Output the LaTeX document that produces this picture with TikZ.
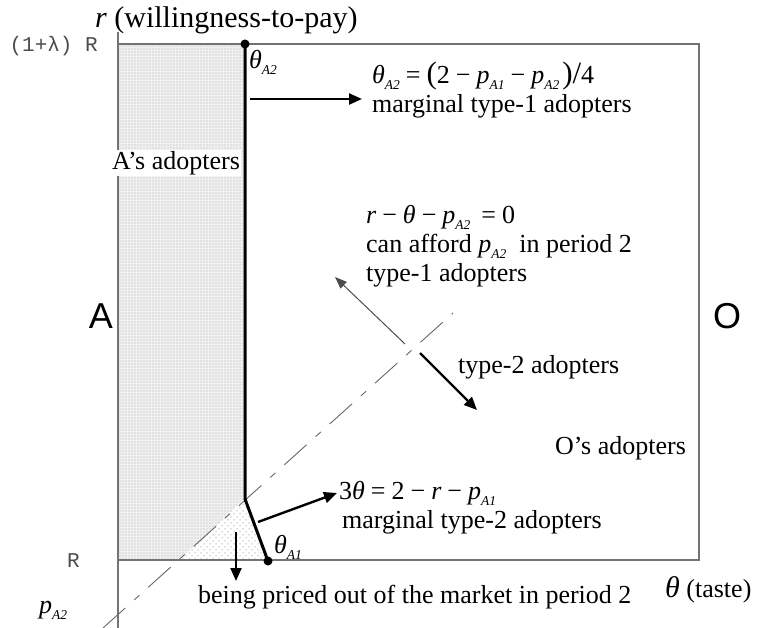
\documentclass[tikz,border=0pt]{standalone}
\usepackage{fontspec}
\setmainfont{Liberation Serif}
\newfontfamily\monof{Liberation Mono}
\newfontfamily\sansf{Liberation Sans}
\usetikzlibrary{arrows.meta,patterns}
\pgfdeclarepatternformonly{finedots}{\pgfqpoint{-1pt}{-1pt}}{\pgfqpoint{1pt}{1pt}}{\pgfqpoint{3pt}{3pt}}%
{\pgfpathcircle{\pgfqpoint{0pt}{0pt}}{0.42pt}\pgfusepath{fill}}
\pgfdeclarepatternformonly{coarsedots}{\pgfqpoint{-1pt}{-1pt}}{\pgfqpoint{5pt}{5pt}}{\pgfqpoint{6pt}{6pt}}%
{\pgfpathcircle{\pgfqpoint{0pt}{0pt}}{0.5pt}\pgfusepath{fill}
 \pgfpathcircle{\pgfqpoint{3pt}{3pt}}{0.5pt}\pgfusepath{fill}}
\newcommand\fsz[1]{\fontsize{#1}{#1}\selectfont}
\newcommand\sbs[1]{\raisebox{-0.22em}[0pt][0pt]{\fsz{13.5}\itshape #1}}
\newcommand\thet{{\itshape θ}}
\newcommand\mns{\hspace{6pt}−\hspace{6pt}}
\newcommand\eqs{\hspace{6pt}=\hspace{6pt}}
\newcommand\bigt[1]{\raisebox{0pt}[0pt][0pt]{\fsz{31}#1}}
\begin{document}
\begin{tikzpicture}[x=1pt,y=-1pt,
  lbl/.style={inner sep=0pt,anchor=west,font=\fsz{26}},
  frame/.style={draw=black!55,line width=1.4pt},
  thickarr/.style={draw=black,line width=2.4pt,-{Triangle[length=13pt,width=11pt]}},
  thinarr/.style={draw=black!70,line width=1pt,-{Triangle[length=12pt,width=9pt]}},
  bound/.style={draw=black,line width=3pt},
  dotpt/.style={fill=black,circle,inner sep=0pt,minimum size=9pt},
  dashln/.style={draw=black!60,line width=0.9pt,dash pattern=on 30pt off 12pt on 7pt off 12pt}]
\useasboundingbox (0,0) rectangle (768,628);
% stipple regions
\fill[black!6] (119,45) -- (244,45) -- (244,499) -- (180,559) -- (119,559) -- cycle;
\fill[pattern=finedots,pattern color=black!75] (119,45) -- (244,45) -- (244,499) -- (180,559) -- (119,559) -- cycle;
\fill[pattern=coarsedots,pattern color=black!65] (244,499) -- (267,559) -- (180,559) -- cycle;
% frame and axes
\draw[frame] (118,44) -- (699,44) -- (699,560) -- (118,560);
\draw[frame] (118,32) -- (118,628);
% dashed line
\coordinate (d1) at (103,628);
\coordinate (d2) at (453,313);
\draw[dashln] (d1) -- (d2);
% boundary
\coordinate (ktop) at (245,44);
\coordinate (kmid) at (245,499);
\coordinate (kbot) at (268,561);
\draw[bound,line join=round] (ktop) -- (kmid) -- (kbot);
\node[dotpt] (dtop) at (ktop) {};
\node[dotpt] (dbot) at (kbot) {};
% labels
\node[lbl,anchor=west,font=\fsz{30}] (ylab) at (95,20) {{\itshape r} (willingness-to-pay)};
\node[inner sep=0pt,anchor=east,font=\monof\fsz{21},text=black!70] (lamR) at (98,46) {(1+λ) R};
\node[inner sep=0pt,anchor=east,font=\monof\fsz{21},text=black!70] (Rlab) at (80,561) {R};
\node[lbl,anchor=center] (pA2) at (53,610) {{\itshape p}\sbs{A2}};
\node[inner sep=0pt,font=\sansf\fsz{36}] (Alab) at (101,316) {A};
\node[inner sep=0pt,font=\sansf\fsz{36}] (Olab) at (727,316) {O};
\node[lbl] (thA2) at (249,60) {\thet\sbs{A2}};
\node[lbl] (f1) at (372,77) {\thet\sbs{A2}\eqs\bigt{(}2\mns{\itshape p}\sbs{A1}\mns{\itshape p}\sbs{A2}\hspace{3pt}\bigt{)/}4};
\node[lbl] (m1) at (372,106) {marginal type-1 adopters};
\node[lbl,anchor=center,fill=white,inner sep=1pt] (Aad) at (176,163) {A’s adopters};
\node[lbl] (f2) at (366,217) {{\itshape r}\mns\thet\mns{\itshape p}\sbs{A2}\hspace{5pt}\eqs 0};
\node[lbl] (c2) at (366,246) {can afford {\itshape p}\sbs{A2}\ \ in period 2};
\node[lbl] (t1) at (366,275) {type-1 adopters};
\node[lbl] (t2) at (458,367) {type-2 adopters};
\node[lbl] (Oad) at (555,448) {O’s adopters};
\node[lbl] (f3) at (339,493) {3\thet\eqs 2\mns{\itshape r}\mns{\itshape p}\sbs{A1}};
\node[lbl] (m2) at (342,522) {marginal type-2 adopters};
\node[lbl] (thA1) at (274,545) {\thet\sbs{A1}};
\node[lbl] (out) at (198,597) {being priced out of the market in period 2};
\node[lbl] (xlab) at (665,590) {{\fsz{30}\thet} (taste)};
% arrows
\coordinate (a1s) at (250,99);  \coordinate (a1e) at (362,99);
\coordinate (a2s) at (405,344); \coordinate (a2e) at (335,277);
\coordinate (a3s) at (420,353); \coordinate (a3e) at (477,410);
\coordinate (a4s) at (258,522); \coordinate (a4e) at (337,493);
\coordinate (a5s) at (236,532); \coordinate (a5e) at (236,581);
\draw[thickarr] (a1s) -- (a1e);
\draw[thinarr] (a2s) -- (a2e);
\draw[thickarr] (a3s) -- (a3e);
\draw[thickarr] (a4s) -- (a4e);
\draw[thickarr,line width=2pt] (a5s) -- (a5e);
\end{tikzpicture}
\end{document}
